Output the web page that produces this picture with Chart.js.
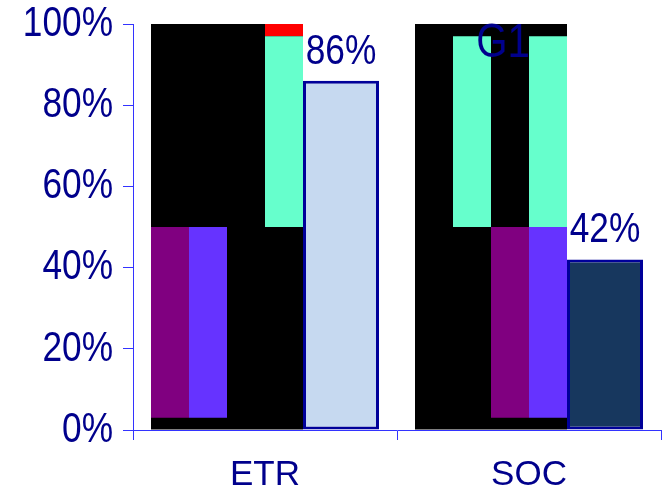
<!DOCTYPE html>
<html>
<head>
<meta charset="utf-8">
<script src="https://cdn.jsdelivr.net/npm/chart.js@4/dist/chart.umd.min.js"></script>
<style>
  html, body { margin: 0; padding: 0; background: #ffffff; }
  #wrap { width: 664px; height: 493px; }
</style>
</head>
<body>
<div id="wrap"><canvas id="c" width="664" height="493"></canvas></div>
<script>
// Categories and the headline score for each one
const categories = ['ETR', 'SOC'];
const scores = [86, 42];
const yTicks = [0, 20, 40, 60, 80, 100];

// Floating segments [from, to] (percent) for the four narrow columns of each group
const backdrop   = [[0, 100], [0, 100]];
const purpleCol1 = [[3, 50], null];
const violetCol2 = [[3, 50], null];
const aquaCol2   = [null, [50, 97]];
const purpleCol3 = [null, [3, 50]];
const aquaCol4   = [[50, 97], [50, 97]];
const violetCol4 = [null, [3, 50]];
const redCol4    = [[97, 100], null];

const NAVY = '#00008c';
const AXIS = '#3333ff';
const FONT = "'Liberation Sans', Arial, sans-serif";
// numbers use a tall, condensed face: draw them horizontally squeezed
const SQUEEZE = 0.82;

const PURPLE = '#800080', VIOLET = '#6633ff', AQUA = '#66ffcc', RED = '#ff0000';
const scoreFills = ['#c6d9f0', '#17375e'];

function seg(data, color, stack) {
  return { data, backgroundColor: color, stack, borderWidth: 0 };
}

const datasets = [
  seg(purpleCol1, PURPLE, 'c1'),
  seg(violetCol2, VIOLET, 'c2'),
  seg(aquaCol2, AQUA, 'c2'),
  seg(purpleCol3, PURPLE, 'c3'),
  seg(aquaCol4, AQUA, 'c4'),
  seg(violetCol4, VIOLET, 'c4'),
  seg(redCol4, RED, 'c4'),
  // score bar, drawn as two adjacent halves sharing one outline
  { data: scores, backgroundColor: scoreFills, stack: 'c5', borderColor: '#000099',
    borderSkipped: false, borderWidth: { top: 3, left: 3, bottom: 3, right: 0 } },
  { data: scores, backgroundColor: scoreFills, stack: 'c6', borderColor: '#000099',
    borderSkipped: false, borderWidth: { top: 3, left: 0, bottom: 3, right: 3 } },
  seg(backdrop, '#000000', 'c1'),
  seg(backdrop, '#000000', 'c2'),
  seg(backdrop, '#000000', 'c3'),
  seg(backdrop, '#000000', 'c4')
];

function squeezedText(ctx, text, x, y, size, align, baseline) {
  ctx.save();
  ctx.translate(x, y);
  ctx.scale(SQUEEZE, 1);
  ctx.font = size + 'px ' + FONT;
  ctx.textAlign = align;
  ctx.textBaseline = baseline;
  ctx.fillText(text, 0, 0);
  ctx.restore();
}

// Y tick labels, percentage labels above the score bars and the "G1" caption
const annotate = {
  id: 'annotate',
  afterDraw(chart) {
    const ctx = chart.ctx;
    ctx.save();
    ctx.fillStyle = NAVY;

    const ys = chart.scales.y;
    ys.ticks.forEach(t => {
      squeezedText(ctx, t.value + '%', ys.right - 20, ys.getPixelForValue(t.value), 43, 'right', 'middle');
    });

    const left = chart.getDatasetMeta(7).data;
    const right = chart.getDatasetMeta(8).data;
    scores.forEach((v, i) => {
      const a = left[i], b = right[i];
      const cx = ((a.x - a.width / 2) + (b.x + b.width / 2)) / 2;
      squeezedText(ctx, v + '%', cx, a.y - 17, 43, 'center', 'alphabetic');
    });

    const xs = chart.scales.x;
    squeezedText(ctx, 'G1', xs.getPixelForValue(1) - 26, chart.chartArea.top + 33, 49, 'center', 'alphabetic');
    ctx.restore();
  }
};

new Chart(document.getElementById('c'), {
  type: 'bar',
  data: { labels: categories, datasets },
  options: {
    responsive: false,
    animation: false,
    events: [],
    layout: { padding: { top: 24, right: 3, left: 0, bottom: 0 } },
    plugins: { legend: { display: false }, tooltip: { enabled: false }, title: { display: false } },
    datasets: { bar: { categoryPercentage: 228 / 264, barPercentage: 1 } },
    scales: {
      x: {
        offset: true,
        grid: { display: true, offset: true, drawOnChartArea: false, drawTicks: true,
                tickLength: 10, color: AXIS, lineWidth: 1 },
        border: { display: true, color: AXIS, width: 1 },
        ticks: { color: NAVY, font: { family: FONT, size: 35 }, padding: 14, maxRotation: 0 },
        afterFit(s) { s.height = 63; s.paddingLeft = 0; s.paddingRight = 0; }
      },
      y: {
        stacked: false,
        min: 0, max: 100,
        afterBuildTicks(s) { s.ticks = yTicks.map(v => ({ value: v })); },
        grid: { display: true, drawOnChartArea: false, drawTicks: true,
                tickLength: 10, color: AXIS, lineWidth: 1 },
        border: { display: true, color: AXIS, width: 1 },
        ticks: { display: false },
        afterFit(s) { s.width = 133; s.paddingTop = 0; s.paddingBottom = 0; }
      }
    }
  },
  plugins: [annotate]
});
</script>
</body>
</html>
